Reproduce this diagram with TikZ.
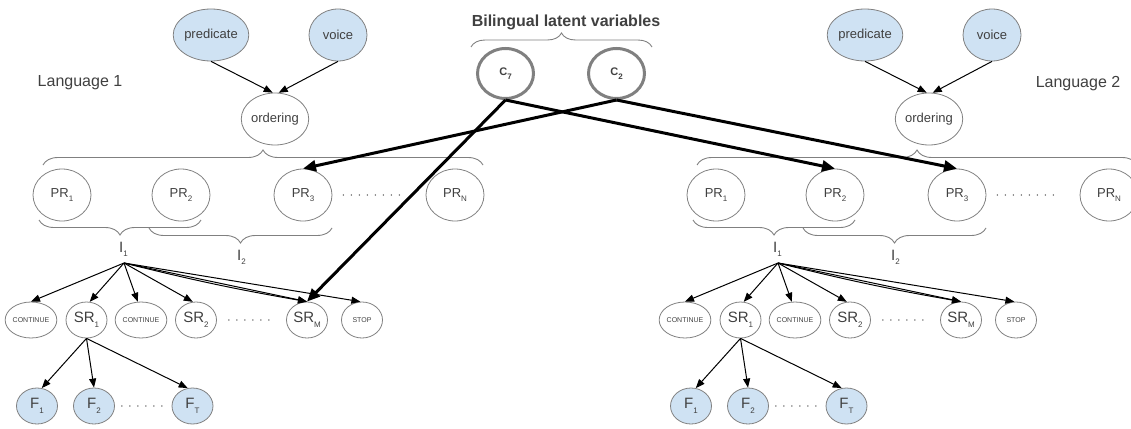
\documentclass[tikz,border=0pt]{standalone}
\usepackage{fontspec}
\setmainfont{Liberation Sans}
\usetikzlibrary{shapes.geometric,arrows.meta,decorations.pathreplacing,calc}
\definecolor{txt}{RGB}{64,64,64}
\definecolor{bord}{RGB}{128,128,128}
\definecolor{lblue}{RGB}{207,226,243}
\newcommand\sbs[1]{\raisebox{-0.6ex}{\fontsize{8}{8}\selectfont #1}}
\begin{document}
\begin{tikzpicture}[x=1pt,y=-1pt,
  big/.style={ellipse, draw=bord, line width=0.8pt, minimum width=58pt, minimum height=52pt, inner sep=0pt, text=txt, font=\fontsize{13}{13}\selectfont},
  small/.style={big, minimum width=41pt, minimum height=36pt},
  tiny/.style={font=\fontsize{7}{7}\selectfont},
  srfont/.style={font=\fontsize{15}{15}\selectfont},
  obs/.style={fill=lblue},
  lat/.style={big, line width=3pt, minimum width=56pt, minimum height=50pt, font=\bfseries\fontsize{11}{11}\selectfont},
  arr/.style={-{Triangle[length=9pt,width=7pt]}, line width=1pt, black},
  thickarr/.style={-{Triangle[length=13pt,width=11pt]}, line width=3pt, black},
  brc/.style={draw=bord, line width=0.9pt, decorate, decoration={brace, amplitude=#1}},
  dotline/.style={draw=txt, line width=1.4pt, dash pattern=on 0pt off 8pt, line cap=round},
  lbl/.style={text=txt, inner sep=0pt}
]
\useasboundingbox (0,0) rectangle (1131,428);
\clip (0,0) rectangle (1131,428);

\node[lbl, font=\fontsize{16}{16}\selectfont] (lang1) at (80,83) {Language 1};
\node[lbl, font=\fontsize{16}{16}\selectfont] (lang2) at (1078,84) {Language 2};

\foreach \s/\dx in {L/0,R/654} {
\begin{scope}[xshift=\dx pt]
  \node[big,obs] (\s-pred) at (211,35) {predicate};
  \node[big,obs] (\s-voice) at (338,35) {voice};
  \node[big] (\s-ord) at (275,119) {ordering};
  \draw[arr] (\s-pred.south) -- (\s-ord.95);
  \draw[arr] (\s-voice.south) -- (\s-ord.82);

  \draw[brc=15] (43,165) -- (483,165);

  \node[big] (\s-pr1) at (62,195) {PR\sbs{1}};
  \node[big] (\s-pr2) at (181,195) {PR\sbs{2}};
  \node[big] (\s-pr3) at (303,195) {PR\sbs{3}};
  \node[big] (\s-prn) at (455,195) {PR\sbs{N}};
  \draw[dotline] ($(\s-pr3.east)+(11,0)$) -- ($(\s-prn.west)+(-20,0)$);

  \draw[brc=15] (201,220) -- (39,220);
  \draw[brc=15] (332,228) -- (149,228);
  \node[lbl, anchor=base west, font=\fontsize{15}{15}\selectfont] (\s-I1) at (119,252) {I\sbs{1}};
  \node[lbl, anchor=base west, font=\fontsize{15}{15}\selectfont] (\s-I2) at (237,260) {I\sbs{2}};
  \coordinate (\s-src) at (124,263);

  \node[small,tiny] (\s-c1) at (31,320) {CONTINUE};
  \node[small,srfont] (\s-sr1) at (86.5,320) {SR\sbs{1}};
  \node[small,tiny] (\s-c2) at (141,320) {CONTINUE};
  \node[small,srfont] (\s-sr2) at (196,320) {SR\sbs{2}};
  \node[small,srfont] (\s-srm) at (307,320) {SR\sbs{M}};
  \node[small,tiny] (\s-stop) at (362,320) {STOP};
  \draw[dotline] ($(\s-sr2.east)+(12,0)$) -- ($(\s-srm.west)+(-15,0)$);

  \draw[arr] (\s-src) -- (\s-c1.north);
  \draw[arr] (\s-src) -- (\s-sr1.80);
  \draw[arr] (\s-src) -- (\s-c2.100);
  \draw[arr] (\s-src) -- (\s-sr2.100);
  \draw[arr] (\s-src) -- (\s-srm.north);
  \draw[arr] (\s-src) to[bend right=2] (\s-srm.north);
  \draw[arr] (\s-src) -- (\s-stop.95);

  \node[small,obs,srfont] (\s-f1) at (37,406) {F\sbs{1}};
  \node[small,obs,srfont] (\s-f2) at (94,406) {F\sbs{2}};
  \node[small,obs,srfont] (\s-ft) at (192.5,406) {F\sbs{T}};
  \draw[dotline] ($(\s-f2.east)+(7,0)$) -- ($(\s-ft.west)+(-7,0)$);
  \draw[arr] (\s-sr1.south) -- (\s-f1.75);
  \draw[arr] (\s-sr1.south) -- (\s-f2.north);
  \draw[arr] (\s-sr1.south) -- (\s-ft.105);
\end{scope}
}

\node[lbl, font=\bfseries\fontsize{16}{16}\selectfont] (title) at (566,22) {Bilingual latent variables};
\draw[brc=14] (471,47) -- (652,47);
\node[lat] (C7) at (505.5,73.5) {C\sbs{7}};
\node[lat] (C2) at (616.5,73.5) {C\sbs{2}};

\draw[thickarr] (C7.south) -- (L-srm.north);
\draw[thickarr] (C7.south) -- (R-pr2.north);
\draw[thickarr] (C2.south) -- (L-pr3.north);
\draw[thickarr] (C2.south) -- (R-pr3.north);
\end{tikzpicture}
\end{document}
